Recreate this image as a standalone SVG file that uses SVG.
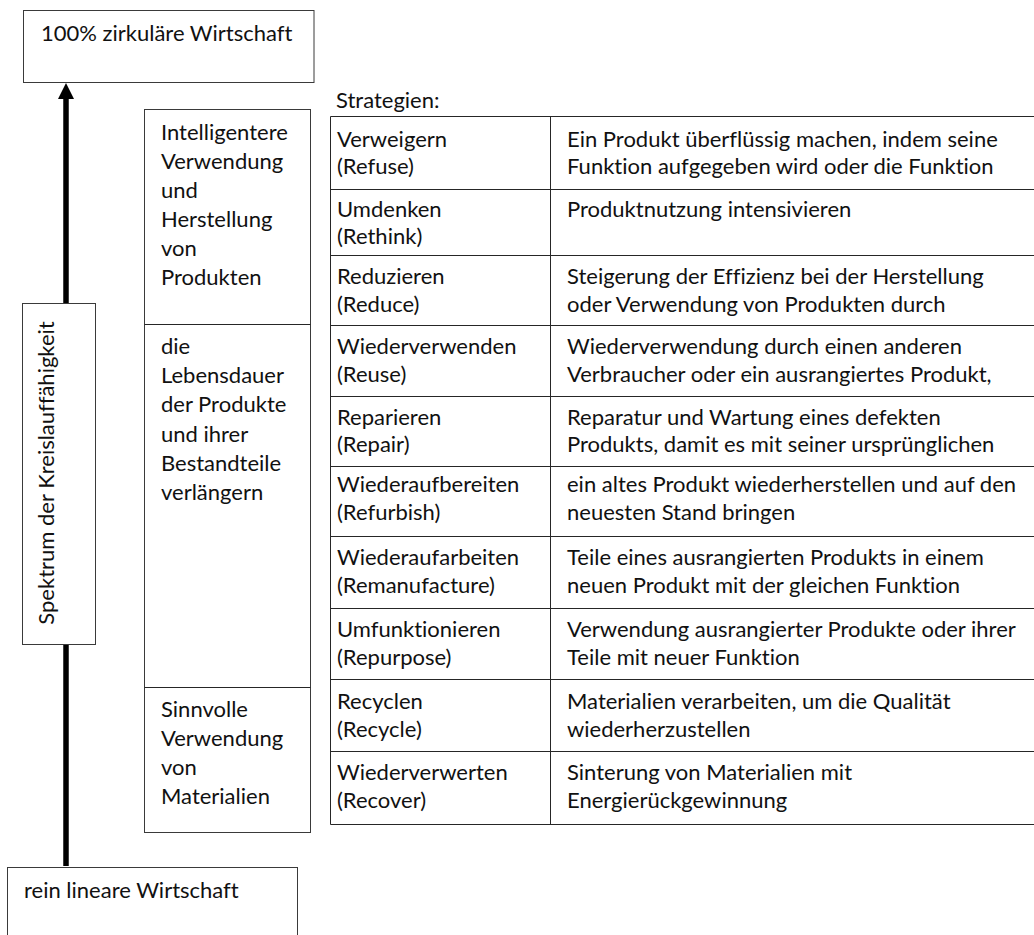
<svg xmlns="http://www.w3.org/2000/svg" width="1034" height="935" viewBox="0 0 1034 935">
<style>
  text { font-family: "Lato", "Liberation Sans", sans-serif; font-size: 22px; fill: #111111; font-variant-ligatures: none; }
  .box { fill: #ffffff; stroke: #3a3a3a; stroke-width: 1; }
  .grid { stroke: #262626; stroke-width: 1; fill: none; }
  .arrow { stroke: #000000; stroke-width: 5.5; fill: none; }
</style>
<defs>
  <marker id="head" markerUnits="userSpaceOnUse" markerWidth="16" markerHeight="16" refX="0" refY="8" orient="auto">
    <path d="M0,0 L16,8 L0,16 Z" fill="#000000"/>
  </marker>
</defs>
<rect width="1034" height="935" fill="#ffffff"/>

<g id="connectors">
  <line class="arrow" x1="66" y1="866" x2="66" y2="99" marker-end="url(#head)"/>
</g>

<g id="top-box">
  <rect class="box" x="23.5" y="10.5" width="290.5" height="72"/>
  <text x="41" y="41">100% zirkuläre Wirtschaft</text>
</g>

<g id="spektrum">
  <rect class="box" x="22.5" y="303.5" width="73" height="341"/>
  <text x="0" y="0" text-anchor="middle" transform="translate(54,473) rotate(-90)">Spektrum der Kreislauffähigkeit</text>
</g>

<g id="bottom-box">
  <rect class="box" x="7.5" y="867.5" width="290" height="80"/>
  <text x="24" y="898">rein lineare Wirtschaft</text>
</g>

<g id="categories">
  <rect class="box" x="144.5" y="109.5" width="166" height="723"/>
  <line class="grid" x1="144.5" y1="324.5" x2="310.5" y2="324.5"/>
  <line class="grid" x1="144.5" y1="687.5" x2="310.5" y2="687.5"/>
  <g id="cat-1">
    <text x="161" y="139.5">Intelligentere</text>
    <text x="161" y="168.6">Verwendung</text>
    <text x="161" y="197.7">und</text>
    <text x="161" y="226.8">Herstellung</text>
    <text x="161" y="255.9">von</text>
    <text x="161" y="285">Produkten</text>
  </g>
  <g id="cat-2">
    <text x="161" y="354">die</text>
    <text x="161" y="383.2">Lebensdauer</text>
    <text x="161" y="412.4">der Produkte</text>
    <text x="161" y="441.6">und ihrer</text>
    <text x="161" y="470.8">Bestandteile</text>
    <text x="161" y="500">verlängern</text>
  </g>
  <g id="cat-3">
    <text x="161" y="716.7">Sinnvolle</text>
    <text x="161" y="745.8">Verwendung</text>
    <text x="161" y="774.9">von</text>
    <text x="161" y="804">Materialien</text>
  </g>
</g>

<text x="336" y="108">Strategien:</text>

<g id="table">
  <g class="grid">
    <line x1="330.5" y1="116.5" x2="1040" y2="116.5"/>
    <line x1="330.5" y1="189.5" x2="1040" y2="189.5"/>
    <line x1="330.5" y1="255.5" x2="1040" y2="255.5"/>
    <line x1="330.5" y1="325.5" x2="1040" y2="325.5"/>
    <line x1="330.5" y1="396.5" x2="1040" y2="396.5"/>
    <line x1="330.5" y1="466.5" x2="1040" y2="466.5"/>
    <line x1="330.5" y1="536.5" x2="1040" y2="536.5"/>
    <line x1="330.5" y1="608.5" x2="1040" y2="608.5"/>
    <line x1="330.5" y1="679.5" x2="1040" y2="679.5"/>
    <line x1="330.5" y1="751.5" x2="1040" y2="751.5"/>
    <line x1="330.5" y1="824.5" x2="1040" y2="824.5"/>
    <line x1="330.5" y1="116.5" x2="330.5" y2="824.5"/>
    <line x1="550.5" y1="116.5" x2="550.5" y2="824.5"/>
  </g>
  <g id="row-refuse">
    <text x="337" y="146.5">Verweigern</text>
    <text x="337" y="174">(Refuse)</text>
    <text x="567" y="146.5">Ein Produkt überflüssig machen, indem seine</text>
    <text x="567" y="174">Funktion aufgegeben wird oder die Funktion</text>
  </g>
  <g id="row-rethink">
    <text x="337" y="216.5">Umdenken</text>
    <text x="337" y="244">(Rethink)</text>
    <text x="567" y="216.5">Produktnutzung intensivieren</text>
  </g>
  <g id="row-reduce">
    <text x="337" y="284">Reduzieren</text>
    <text x="337" y="311.5">(Reduce)</text>
    <text x="567" y="284">Steigerung der Effizienz bei der Herstellung</text>
    <text x="567" y="311.5">oder Verwendung von Produkten durch</text>
  </g>
  <g id="row-reuse">
    <text x="337" y="354">Wiederverwenden</text>
    <text x="337" y="381.5">(Reuse)</text>
    <text x="567" y="354">Wiederverwendung durch einen anderen</text>
    <text x="567" y="381.5">Verbraucher oder ein ausrangiertes Produkt,</text>
  </g>
  <g id="row-repair">
    <text x="337" y="424.5">Reparieren</text>
    <text x="337" y="452">(Repair)</text>
    <text x="567" y="424.5">Reparatur und Wartung eines defekten</text>
    <text x="567" y="452">Produkts, damit es mit seiner ursprünglichen</text>
  </g>
  <g id="row-refurbish">
    <text x="337" y="492">Wiederaufbereiten</text>
    <text x="337" y="519.5">(Refurbish)</text>
    <text x="567" y="492">ein altes Produkt wiederherstellen und auf den</text>
    <text x="567" y="519.5">neuesten Stand bringen</text>
  </g>
  <g id="row-remanufacture">
    <text x="337" y="565">Wiederaufarbeiten</text>
    <text x="337" y="592.5">(Remanufacture)</text>
    <text x="567" y="565">Teile eines ausrangierten Produkts in einem</text>
    <text x="567" y="592.5">neuen Produkt mit der gleichen Funktion</text>
  </g>
  <g id="row-repurpose">
    <text x="337" y="637">Umfunktionieren</text>
    <text x="337" y="664.5">(Repurpose)</text>
    <text x="567" y="637">Verwendung ausrangierter Produkte oder ihrer</text>
    <text x="567" y="664.5">Teile mit neuer Funktion</text>
  </g>
  <g id="row-recycle">
    <text x="337" y="709">Recyclen</text>
    <text x="337" y="736.5">(Recycle)</text>
    <text x="567" y="709">Materialien verarbeiten, um die Qualität</text>
    <text x="567" y="736.5">wiederherzustellen</text>
  </g>
  <g id="row-recover">
    <text x="337" y="780">Wiederverwerten</text>
    <text x="337" y="807.5">(Recover)</text>
    <text x="567" y="780">Sinterung von Materialien mit</text>
    <text x="567" y="807.5">Energierückgewinnung</text>
  </g>
</g>
</svg>
